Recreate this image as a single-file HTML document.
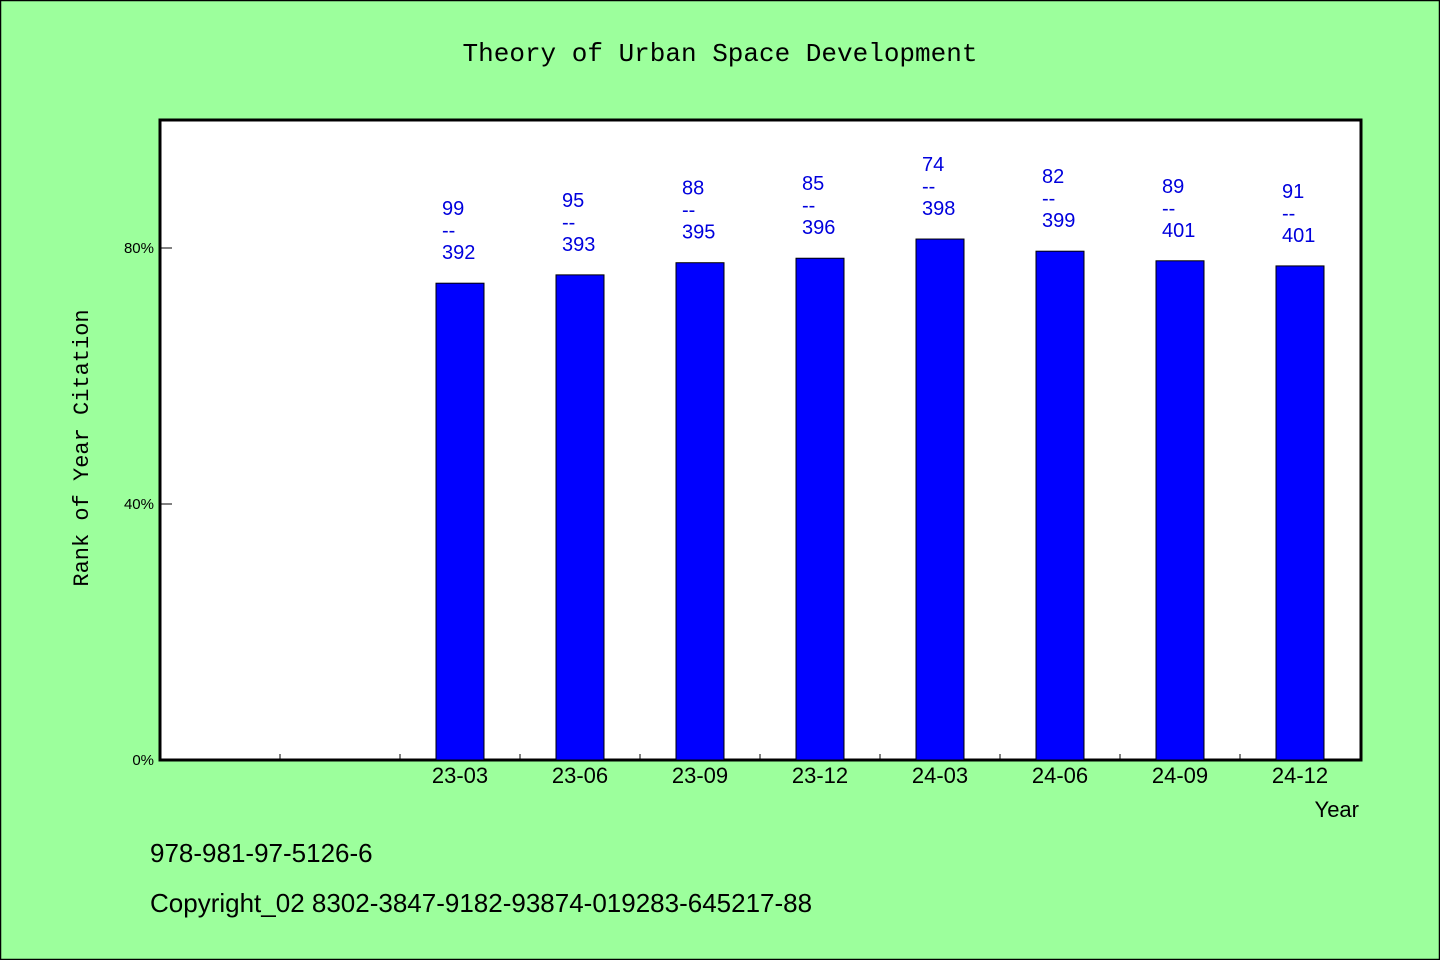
<!DOCTYPE html>
<html><head><meta charset="utf-8"><style>
html,body{margin:0;padding:0;}
body{width:1440px;height:960px;overflow:hidden;background:#9cff9c;}
svg{display:block;font-family:"WenQuanYi Zen Hei","Liberation Sans",sans-serif;}
</style></head><body>
<svg id="chart" width="1440" height="960" xmlns="http://www.w3.org/2000/svg">
<rect x="0.5" y="0.5" width="1439" height="959" fill="#9cff9c" stroke="#000" stroke-width="1.5"/>
<text x="720" y="61" text-anchor="middle" font-size="26" font-family="'Liberation Mono',monospace" fill="#000">Theory of Urban Space Development</text>
<rect x="160" y="120" width="1201" height="640" fill="#fff" stroke="#000" stroke-width="3"/>
<g id="ticks"></g>
<g id="bars"></g>
<text transform="translate(88,448) rotate(-90)" text-anchor="middle" font-size="22" font-family="'Liberation Mono',monospace" fill="#000">Rank of Year Citation</text>
<text x="1359" y="817" text-anchor="end" font-size="22" fill="#000">Year</text>
<text x="150" y="862" font-size="26" fill="#000">978-981-97-5126-6</text>
<text x="150" y="912" font-size="26" fill="#000">Copyright_02 8302-3847-9182-93874-019283-645217-88</text>
</svg>
<script>
const categories = ["", "", "23-03", "23-06", "23-09", "23-12", "24-03", "24-06", "24-09", "24-12"];
const values = [null, null, 74.5, 75.8, 77.7, 78.4, 81.4, 79.5, 78.0, 77.2];
const ranks = [null, null, "99", "95", "88", "85", "74", "82", "89", "91"];
const citations = [null, null, "392", "393", "395", "396", "398", "399", "401", "401"];
const yTicks = [0, 40, 80];
const yTickLabels = ["0%", "40%", "80%"];

const NS = "http://www.w3.org/2000/svg";
const x0 = 160, x1 = 1360, y0 = 760, y1 = 120, yMax = 100;
const band = (x1 - x0) / categories.length;
const xScale = i => x0 + band * i;
const yScale = v => y0 - (v / yMax) * (y0 - y1);
function mk(tag, attrs, parent) { const e = document.createElementNS(NS, tag); for (const k in attrs) e.setAttribute(k, attrs[k]); parent.appendChild(e); return e; }
const ticksG = document.getElementById('ticks');
const barsG = document.getElementById('bars');

yTicks.forEach((t, i) => {
  const y = yScale(t);
  if (t > 0) {
    const l = mk('line', {x1: x0, x2: x0 + 12, y1: y, y2: y, stroke: '#000', 'stroke-width': 1}, ticksG);
    
    
  }
  const tx = mk('text', {x: x0 - 6, y: y + 5, 'text-anchor': 'end', 'font-size': 15, fill: '#000'}, ticksG);
  tx.textContent = yTickLabels[i];
  
  
});

categories.forEach((c, i) => {
  if (i > 0) {
    const l = mk('line', {x1: xScale(i), x2: xScale(i), y1: y0, y2: y0 - 6, stroke: '#000', 'stroke-width': 1}, ticksG);
    
    
  }
  if (c) {
    const tx = mk('text', {x: xScale(i) + band / 2, y: y0 + 23, 'text-anchor': 'middle', 'font-size': 22, fill: '#000'}, ticksG);
    tx.textContent = c;
    
    
  }
  if (values[i] == null) return;
  const cx = xScale(i) + band / 2;
  const top = yScale(values[i]);
  const r = mk('rect', {x: cx - 24, y: top, width: 48, height: y0 - top, fill: '#0000ff', stroke: '#000', 'stroke-width': 1}, barsG);
  
  
  const lbl = mk('text', {x: cx - 18, y: top - 68, 'font-size': 20, fill: '#0000dd'}, barsG);
  
  
  const lines = [ranks[i], "--", citations[i]];
  lines.forEach((s, k) => {
    const ts = mk('tspan', {x: cx - 18, dy: k === 0 ? 0 : 22}, lbl);
    ts.textContent = s;
  });
});
</script>
</body></html>
